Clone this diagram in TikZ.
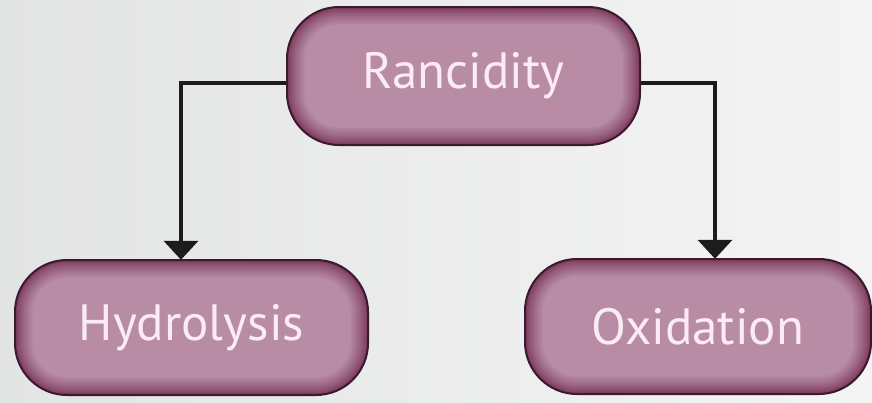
\documentclass[tikz,border=0pt]{standalone}
\usepackage{fontspec}
\newfontfamily\boxfont{PT Sans}
\usetikzlibrary{arrows.meta}
\definecolor{bgl}{HTML}{E3E4E4}
\definecolor{bgr}{HTML}{F4F4F4}
\definecolor{pilldark}{HTML}{7A365A}
\definecolor{pilllight}{HTML}{B78CA4}
\definecolor{pillborder}{HTML}{3A1A2C}
\definecolor{pilltxt}{HTML}{FCEAF4}
\definecolor{arrcol}{HTML}{1C1C1C}
\tikzset{
  pilltext/.style={inner sep=0pt, text=pilltxt, font=\boxfont\fontsize{51}{55}\selectfont},
  conn/.style={draw=arrcol, line width=4pt, -{Triangle[width=34pt,length=19pt]}}
}
\newcommand\pillbox[6]{%
  \foreach \i in {0,...,18}{%
    \pgfmathsetmacro\pp{100*(\i/18)^0.8}%
    \pgfmathsetmacro\rr{52-\i}%
    \fill[pilllight!\pp!pilldark, rounded corners=\rr pt]
      (#2-#4/2+\i, #3-#5/2+\i) rectangle (#2+#4/2-\i, #3+#5/2-\i);
  }%
  \draw[pillborder, line width=2pt, rounded corners=52pt]
    (#2-#4/2, #3-#5/2) rectangle (#2+#4/2, #3+#5/2);
  \node[pilltext, minimum width=#4pt, minimum height=#5pt] (#1) at (#2,#3) {#6};
}
\begin{document}
\begin{tikzpicture}[x=1pt,y=-1pt]
  \useasboundingbox (0,0) rectangle (872,402);
  \shade[left color=bgl, right color=bgr] (0,0) rectangle (872,402);
  % invisible anchors for connectors
  \node[minimum width=353pt, minimum height=138pt, inner sep=0pt] (Rb) at (463.5,76) {};
  \node[minimum width=353pt, minimum height=135pt, inner sep=0pt] (Hb) at (191.5,327.5) {};
  \node[minimum width=346pt, minimum height=135pt, inner sep=0pt] (Ob) at (698,326.5) {};
  \draw[conn] ([yshift=-7pt]Rb.west) -| ([xshift=-10.5pt]Hb.north);
  \draw[conn] ([yshift=-7pt]Rb.east) -| ([xshift=17pt]Ob.north);
  \pillbox{R}{463.5}{76}{353}{138}{Rancidity}
  \pillbox{H}{191.5}{327.5}{353}{135}{Hydrolysis}
  \pillbox{O}{698}{326.5}{346}{135}{Oxidation}
\end{tikzpicture}
\end{document}
